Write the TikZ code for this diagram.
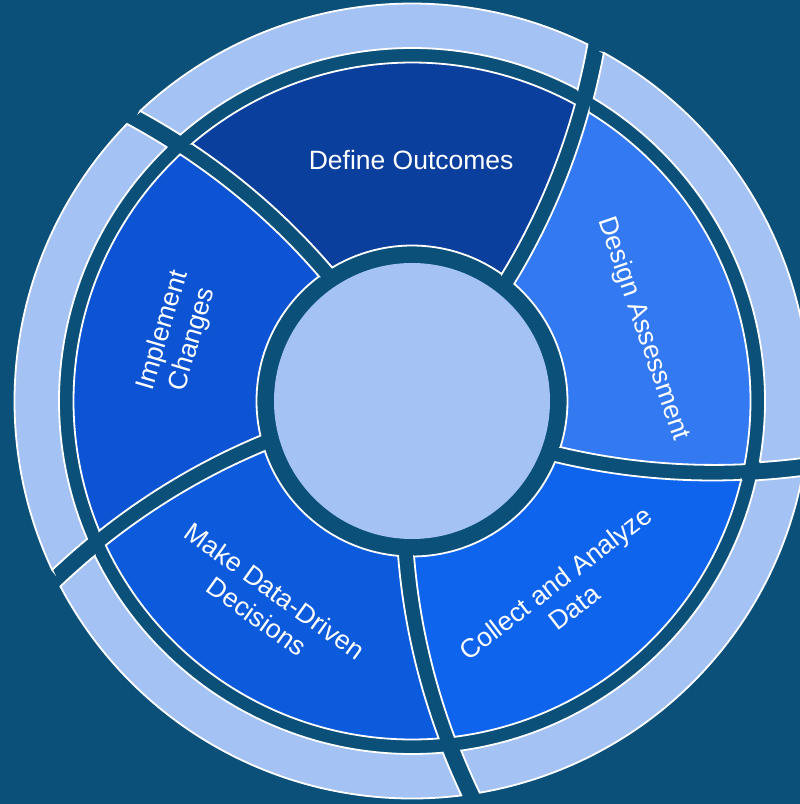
\documentclass[tikz,border=0pt]{standalone}
\usepackage{fontspec}
\setmainfont{Liberation Sans}
\usetikzlibrary{positioning}

\definecolor{bgblue}{HTML}{0A5079}
\definecolor{paleblue}{HTML}{A4C2F4}
\definecolor{defineblue}{HTML}{0B3F9E}
\definecolor{implementblue}{HTML}{0C54D3}
\definecolor{makeblue}{HTML}{0D5BDD}
\definecolor{collectblue}{HTML}{0F64EE}
\definecolor{designblue}{HTML}{3279F2}

\newcommand{\sepangle}{51.8} % angle of the first cut at the inner radius
\newcommand{\twist}{0.044}   % degrees the cuts turn per unit of radius
% #1 angle of the cut before the piece, #2 inner radius, #3 outer radius, #4 gap, #5 fill
\newcommand{\ringpiece}[5]{%
  \pgfmathsetmacro{\ain}{#1+\twist*(#2-155)+28.648*#4/#2}%
  \pgfmathsetmacro{\aout}{#1+\twist*(#3-155)+28.648*#4/#3}%
  \pgfmathsetmacro{\bin}{#1+72+\twist*(#2-155)-28.648*#4/#2}%
  \pgfmathsetmacro{\bout}{#1+72+\twist*(#3-155)-28.648*#4/#3}%
  \filldraw[ring piece, fill=#5]
    plot[domain=#2:#3, samples=20, variable=\rr] ({#1+\twist*(\rr-155)+28.648*#4/\rr}:\rr)
    arc[start angle=\aout, end angle=\bout, radius=#3]
    -- plot[domain=#3:#2, samples=20, variable=\rr] ({#1+72+\twist*(\rr-155)-28.648*#4/\rr}:\rr)
    arc[start angle=\bin, end angle=\ain, radius=#2] -- cycle;}

\begin{document}
\begin{tikzpicture}[x=1pt, y=1pt]
\tikzset{ring piece/.style={draw=white, line width=1.8}} % every piece of both rings
\tikzset{step label/.style={text=white, align=center, font=\fontsize{26.5}{31}\selectfont}}
\useasboundingbox (-412,-403) rectangle (388,401);
\fill[bgblue] (-412,-403) rectangle (388,401); % background
\fill[paleblue] (0,0) circle[radius=138]; % hub
\foreach \k/\col in {0/defineblue, 1/implementblue, 2/makeblue, 3/collectblue, 4/designblue}{
  \ringpiece{\sepangle+72*\k}{155.5}{338.5}{16}{\col} % step ring
  \ringpiece{\sepangle+72*\k}{353}{397.5}{18.5}{paleblue} % outer ring
}
\node[step label] (define) at (90.2:241) {Define Outcomes};
\node[step label, rotate=-71] (design) at (17.3:242) {Design Assessment};
\node[step label, rotate=37.5] (collect) at (308.2:247) {Collect and Analyze\\Data};
\node[step label, rotate=-35.5] (decide) at (234.2:250) {Make Data-Driven\\Decisions};
\node[step label, rotate=73.5] (implement) at (164.2:243) {Implement\\Changes};
\end{tikzpicture}
\end{document}
